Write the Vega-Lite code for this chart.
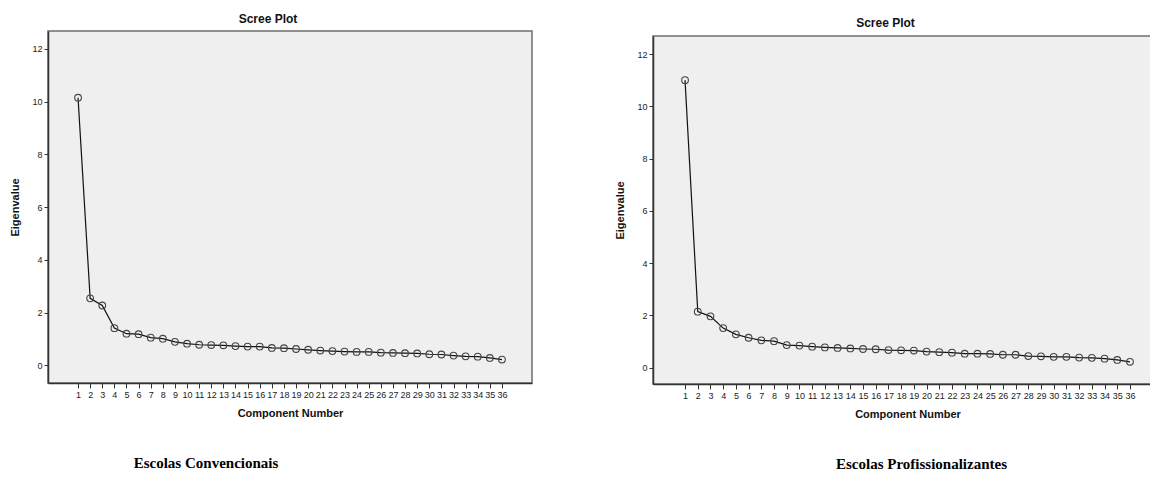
{
  "$schema": "https://vega.github.io/schema/vega-lite/v6.json",
  "background": "white",
  "padding": {"left": 9, "top": 12, "right": 0, "bottom": 5},
  "spacing": 81,
  "datasets": {
    "conv": [
      {"component": 1, "eigenvalue": 10.15}, {"component": 2, "eigenvalue": 2.54}, {"component": 3, "eigenvalue": 2.27},
      {"component": 4, "eigenvalue": 1.41}, {"component": 5, "eigenvalue": 1.2}, {"component": 6, "eigenvalue": 1.18},
      {"component": 7, "eigenvalue": 1.05}, {"component": 8, "eigenvalue": 1.01}, {"component": 9, "eigenvalue": 0.89},
      {"component": 10, "eigenvalue": 0.82}, {"component": 11, "eigenvalue": 0.78}, {"component": 12, "eigenvalue": 0.77},
      {"component": 13, "eigenvalue": 0.76}, {"component": 14, "eigenvalue": 0.73}, {"component": 15, "eigenvalue": 0.71},
      {"component": 16, "eigenvalue": 0.71}, {"component": 17, "eigenvalue": 0.66}, {"component": 18, "eigenvalue": 0.65},
      {"component": 19, "eigenvalue": 0.62}, {"component": 20, "eigenvalue": 0.59}, {"component": 21, "eigenvalue": 0.56},
      {"component": 22, "eigenvalue": 0.54}, {"component": 23, "eigenvalue": 0.52}, {"component": 24, "eigenvalue": 0.51},
      {"component": 25, "eigenvalue": 0.51}, {"component": 26, "eigenvalue": 0.48}, {"component": 27, "eigenvalue": 0.47},
      {"component": 28, "eigenvalue": 0.46}, {"component": 29, "eigenvalue": 0.45}, {"component": 30, "eigenvalue": 0.42},
      {"component": 31, "eigenvalue": 0.41}, {"component": 32, "eigenvalue": 0.37}, {"component": 33, "eigenvalue": 0.34},
      {"component": 34, "eigenvalue": 0.33}, {"component": 35, "eigenvalue": 0.28}, {"component": 36, "eigenvalue": 0.22}
    ],
    "prof": [
      {"component": 1, "eigenvalue": 11.0}, {"component": 2, "eigenvalue": 2.14}, {"component": 3, "eigenvalue": 1.96},
      {"component": 4, "eigenvalue": 1.51}, {"component": 5, "eigenvalue": 1.27}, {"component": 6, "eigenvalue": 1.14},
      {"component": 7, "eigenvalue": 1.04}, {"component": 8, "eigenvalue": 1.01}, {"component": 9, "eigenvalue": 0.86},
      {"component": 10, "eigenvalue": 0.84}, {"component": 11, "eigenvalue": 0.8}, {"component": 12, "eigenvalue": 0.77},
      {"component": 13, "eigenvalue": 0.75}, {"component": 14, "eigenvalue": 0.73}, {"component": 15, "eigenvalue": 0.71},
      {"component": 16, "eigenvalue": 0.7}, {"component": 17, "eigenvalue": 0.67}, {"component": 18, "eigenvalue": 0.66},
      {"component": 19, "eigenvalue": 0.65}, {"component": 20, "eigenvalue": 0.61}, {"component": 21, "eigenvalue": 0.59},
      {"component": 22, "eigenvalue": 0.57}, {"component": 23, "eigenvalue": 0.53}, {"component": 24, "eigenvalue": 0.53},
      {"component": 25, "eigenvalue": 0.52}, {"component": 26, "eigenvalue": 0.49}, {"component": 27, "eigenvalue": 0.49},
      {"component": 28, "eigenvalue": 0.44}, {"component": 29, "eigenvalue": 0.43}, {"component": 30, "eigenvalue": 0.41},
      {"component": 31, "eigenvalue": 0.41}, {"component": 32, "eigenvalue": 0.38}, {"component": 33, "eigenvalue": 0.37},
      {"component": 34, "eigenvalue": 0.34}, {"component": 35, "eigenvalue": 0.29}, {"component": 36, "eigenvalue": 0.22}
    ]
  },
  "config": {
    "view": {"fill": "#efefef", "stroke": "#6e6e6e", "strokeWidth": 1.5},
    "axis": {
      "labelFont": "Liberation Sans", "labelFontSize": 9, "labelColor": "#222",
      "titleFont": "Liberation Sans", "titleFontSize": 11, "titleFontWeight": "bold", "titleColor": "#111",
      "domainColor": "#333", "domainWidth": 1.5, "tickColor": "#333", "tickWidth": 1,
      "grid": false, "labelOverlap": false, "labelFlush": false, "labelBound": false
    },
    "title": {"font": "Liberation Sans", "fontSize": 12, "fontWeight": "bold", "color": "#111", "offset": 5}
  },
  "hconcat": [
    {
      "title": {"text": "Escolas Convencionais", "orient": "bottom", "anchor": "middle", "frame": "bounds", "font": "Liberation Serif", "fontSize": 15, "fontWeight": "bold", "color": "#000", "offset": 37, "dx": -65},
      "vconcat": [
        {
          "title": {"text": "Scree Plot", "anchor": "middle", "dx": -22},
          "width": 484,
          "height": 352,
          "data": {"name": "conv"},
          "encoding": {
            "x": {"field": "component", "type": "quantitative", "scale": {"domain": [-1.48, 38.48], "nice": false, "zero": false},
                  "axis": {"title": "Component Number", "values": [1,2,3,4,5,6,7,8,9,10,11,12,13,14,15,16,17,18,19,20,21,22,23,24,25,26,27,28,29,30,31,32,33,34,35,36], "tickSize": 5, "labelPadding": 2, "titlePadding": 8}},
            "y": {"field": "eigenvalue", "type": "quantitative", "scale": {"domain": [-0.67, 12.68], "nice": false, "zero": false},
                  "axis": {"title": "Eigenvalue", "values": [0, 2, 4, 6, 8, 10, 12], "tickSize": 4, "labelPadding": 2, "titlePadding": 11}}
          },
          "layer": [
            {"mark": {"type": "line", "color": "#111", "strokeWidth": 1.2}},
            {"mark": {"type": "point", "shape": "circle", "filled": false, "stroke": "#444", "strokeWidth": 1.1, "size": 45, "opacity": 1}}
          ]
        }
      ]
    },
    {
      "title": {"text": "Escolas Profissionalizantes", "orient": "bottom", "anchor": "middle", "frame": "bounds", "font": "Liberation Serif", "fontSize": 15, "fontWeight": "bold", "color": "#000", "offset": 37, "dx": 33},
      "spacing": 0,
      "vconcat": [
        {
          "title": {"text": "Scree Plot", "anchor": "middle", "dx": -22, "offset": 1},
          "width": 509,
          "height": 4,
          "view": {"stroke": null, "fill": null},
          "data": {"values": []},
          "mark": "point"
        },
        {
          "width": 509,
          "height": 348,
          "data": {"name": "prof"},
          "encoding": {
            "x": {"field": "component", "type": "quantitative", "scale": {"domain": [-1.52, 38.52], "nice": false, "zero": false},
                  "axis": {"title": "Component Number", "values": [1,2,3,4,5,6,7,8,9,10,11,12,13,14,15,16,17,18,19,20,21,22,23,24,25,26,27,28,29,30,31,32,33,34,35,36], "tickSize": 5, "labelPadding": 2, "titlePadding": 8}},
            "y": {"field": "eigenvalue", "type": "quantitative", "scale": {"domain": [-0.63, 12.69], "nice": false, "zero": false},
                  "axis": {"title": "Eigenvalue", "values": [0, 2, 4, 6, 8, 10, 12], "tickSize": 4, "labelPadding": 2, "titlePadding": 11}}
          },
          "layer": [
            {"mark": {"type": "line", "color": "#111", "strokeWidth": 1.2}},
            {"mark": {"type": "point", "shape": "circle", "filled": false, "stroke": "#444", "strokeWidth": 1.1, "size": 45, "opacity": 1}}
          ]
        }
      ]
    }
  ]
}
